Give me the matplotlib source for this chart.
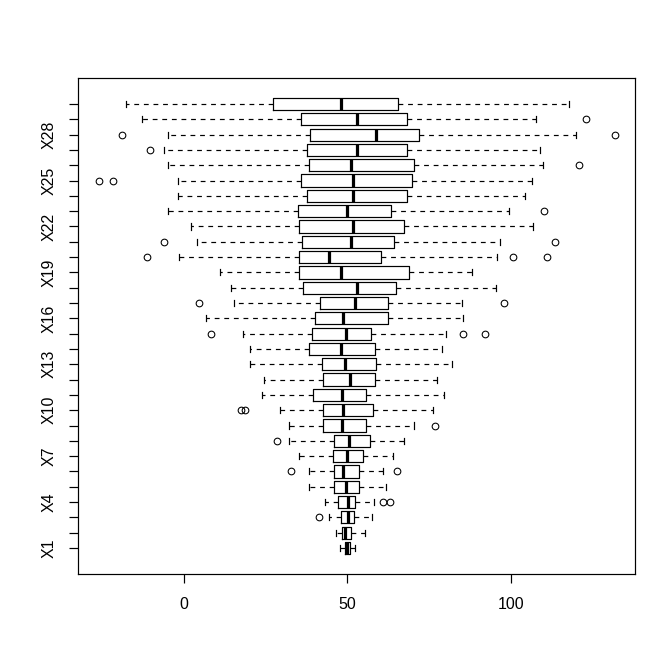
import matplotlib
matplotlib.use("Agg")
import matplotlib.pyplot as plt

plt.rcParams['font.family'] = ['Liberation Sans', 'DejaVu Sans']

# box stats, X1 .. X30
names = ["X%d" % i for i in range(1, 31)]
whislo = [47.8, 46.6, 44.3, 43.2, 38.2, 38.4, 35.4, 32.3, 32.3, 29.4,
          24.0, 24.5, 20.2, 20.4, 18.2, 6.9, 15.5, 14.6, 11.2, -1.5,
          4.1, 2.2, -4.6, -1.8, -1.8, -4.6, -5.8, -4.6, -12.6, -17.5]
q1 = [49.3, 48.4, 48.1, 47.2, 45.9, 45.9, 45.7, 45.9, 42.6, 42.6,
      39.5, 42.6, 42.3, 38.3, 39.2, 40.1, 41.6, 36.4, 35.4, 35.2,
      36.1, 35.2, 34.9, 37.6, 35.8, 38.3, 37.6, 38.5, 35.8, 27.4]
med = [49.9, 49.3, 50.2, 50.2, 49.5, 48.7, 49.9, 50.6, 48.4, 48.7,
       48.4, 50.8, 49.3, 48.1, 49.5, 48.7, 52.2, 53.1, 48.1, 44.3,
       51.1, 51.8, 49.9, 51.8, 51.8, 51.1, 53.1, 58.8, 53.1, 48.1]
q3 = [50.7, 51.1, 52.1, 52.4, 53.6, 53.6, 54.9, 56.9, 55.8, 57.9,
      55.8, 58.5, 58.9, 58.5, 57.3, 62.5, 62.5, 65.0, 68.7, 60.4,
      64.1, 67.2, 63.4, 68.1, 69.7, 70.3, 68.1, 71.8, 68.1, 65.4]
whishi = [52.4, 55.5, 57.6, 58.0, 61.7, 61.0, 63.8, 67.2, 70.3, 76.1,
          79.5, 77.4, 82.0, 78.8, 80.1, 85.3, 85.1, 95.4, 88.2, 95.8,
          96.7, 106.8, 99.2, 104.1, 106.4, 109.7, 108.8, 119.8, 107.7, 117.7]
outliers = [[], [], [41.3], [60.8, 63.1], [], [32.7, 65.3], [], [28.4],
            [76.8], [17.5, 18.9], [], [], [], [], [8.3, 85.3, 92.1], [],
            [4.7, 97.9], [], [], [-11.0, 100.5, 110.9], [-6.0, 113.3], [],
            [109.9], [], [-25.9, -21.5], [120.7], [-10.3], [-18.9, 119.8 + 12.0],
            [122.9], []]

stats = []
for i in range(len(names)):
    stats.append(dict(label=names[i], whislo=whislo[i], q1=q1[i], med=med[i],
                      q3=q3[i], whishi=whishi[i], fliers=outliers[i]))

fig = plt.figure(figsize=(7, 7), dpi=96)
ax = fig.add_axes([78 / 672, 98 / 672, (635 - 78) / 672, (574 - 78) / 672])

ax.bxp(stats, positions=range(1, 31), widths=0.8, vert=False,
       patch_artist=False,
       boxprops=dict(color='black', linewidth=0.9),
       medianprops=dict(color='black', linewidth=2.4, solid_capstyle='butt'),
       whiskerprops=dict(color='black', linewidth=0.9, linestyle=(0, (4, 4))),
       capprops=dict(color='black', linewidth=0.9),
       capwidths=0.4,
       flierprops=dict(marker='o', markerfacecolor='none', markeredgecolor='black',
                       markersize=5, markeredgewidth=0.8))

ax.set_xlim(-32.2, 137.8)
ax.set_ylim(-0.7, 31.7)
ax.set_xticks([0, 50, 100])
ax.set_xticklabels(["0", "50", "100"])
ax.set_yticks(range(1, 31))
ax.set_yticklabels([n if (i % 3 == 0) else "" for i, n in enumerate(names)],
                   rotation=90, va='center')
ax.tick_params(axis='both', length=7, width=0.9, labelsize=12, direction='out')
ax.tick_params(axis='x', pad=10)
ax.tick_params(axis='y', pad=9)
for s in ax.spines.values():
    s.set_linewidth(0.9)

fig.savefig("out.png", dpi=96)
